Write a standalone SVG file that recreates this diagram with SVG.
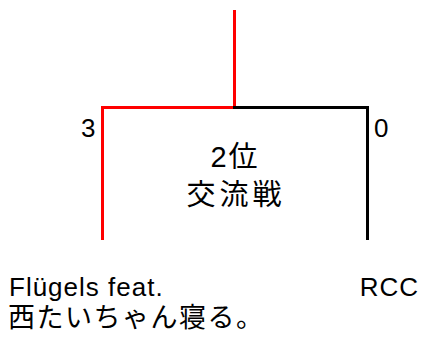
<svg xmlns="http://www.w3.org/2000/svg" width="424" height="338" viewBox="0 0 424 338">
<style>
.t{font-family:"Liberation Sans","Noto Sans CJK JP",sans-serif;fill:#000}
.r{stroke:#ff0000;stroke-width:3;fill:none}
.k{stroke:#000;stroke-width:3;fill:none}
</style>
<rect width="424" height="338" fill="#fff"/>
<g id="connectors">
<path class="r" d="M234.5 10V107.5"/>
<path class="r" d="M102.5 240V107.5H234.5"/>
<path class="k" d="M233 107.5H367.5V240"/>
</g>
<g id="match">
<text class="t" x="235" y="167" font-size="29" letter-spacing="2" text-anchor="middle">2位</text>
<text class="t" x="236" y="205" font-size="29" letter-spacing="4" text-anchor="middle">交流戦</text>
</g>
<g id="score-left"><text class="t" x="81" y="137" font-size="26">3</text></g>
<g id="score-right"><text class="t" x="374" y="137" font-size="26">0</text></g>
<g id="team-left">
<text class="t" x="9" y="296" font-size="26" letter-spacing="1">Flügels feat.</text>
<text class="t" x="8" y="327" font-size="27" letter-spacing="1.5">西たいちゃん寝る。</text>
</g>
<g id="team-right"><text class="t" x="419" y="296" font-size="26" letter-spacing="1" text-anchor="end">RCC</text></g>
</svg>
